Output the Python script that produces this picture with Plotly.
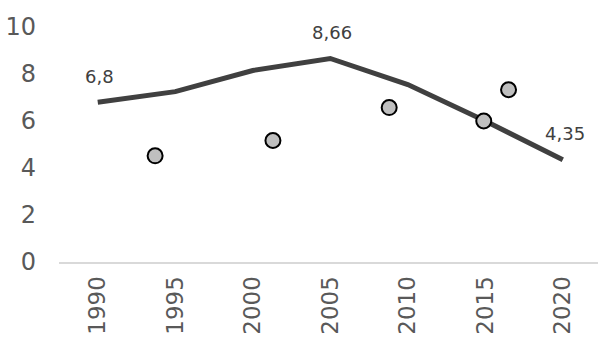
import plotly.graph_objects as go

years = [1990, 1995, 2000, 2005, 2010, 2015, 2020]
line_values = [6.8, 7.25, 8.15, 8.66, 7.55, 6.0, 4.35]
labeled_years = [1990, 2005, 2020]

scatter_x = [1993.7, 2001.3, 2008.8, 2014.9, 2016.5]
scatter_y = [4.52, 5.17, 6.57, 6.0, 7.33]

y_ticks = [0, 2, 4, 6, 8, 10]

fig = go.Figure()
fig.add_trace(go.Scatter(
    x=years, y=line_values, mode="lines",
    line=dict(color="#404040", width=5),
    cliponaxis=False, hoverinfo="skip", showlegend=False,
))
fig.add_trace(go.Scatter(
    x=scatter_x, y=scatter_y, mode="markers",
    marker=dict(size=15, color="#bfbfbf", line=dict(color="#000000", width=2)),
    cliponaxis=False, showlegend=False,
))

for yr, v in zip(years, line_values):
    if yr in labeled_years:
        fig.add_annotation(
            x=yr, y=v, text=f"{v:g}".replace(".", ","),
            showarrow=False, yshift=26, xshift=2,
            font=dict(family="DejaVu Sans", size=18, color="#404040"),
        )

fig.update_layout(
    width=598, height=338,
    margin=dict(l=59, r=0, t=27, b=76),
    paper_bgcolor="white", plot_bgcolor="white",
    font=dict(family="DejaVu Sans", color="#595959"),
    xaxis=dict(
        range=[1987.5, 2022.27], tickvals=years, ticktext=[str(y) for y in years],
        tickangle=-90, showgrid=False, zeroline=False, automargin=False,
        showline=True, linecolor="#d9d9d9", linewidth=2,
        ticks="", ticklabelstandoff=3,
        tickfont=dict(family="DejaVu Sans", size=23, color="#595959"),
    ),
    yaxis=dict(
        range=[0, 10], tickvals=y_ticks, showgrid=False, zeroline=False,
        showline=False, ticks="", ticklabelstandoff=22, automargin=False,
        tickfont=dict(family="DejaVu Sans", size=24, color="#595959"),
    ),
)

fig.write_html("out.html")
